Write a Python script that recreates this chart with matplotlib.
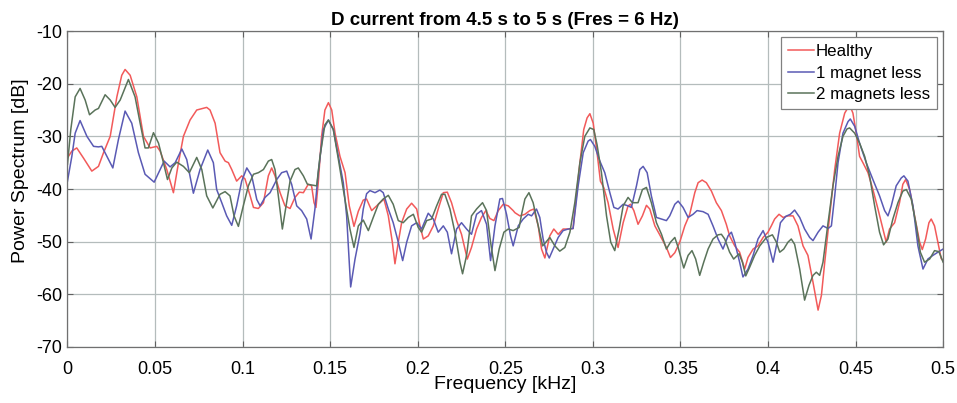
import matplotlib
matplotlib.use("Agg")
import matplotlib.pyplot as plt

# ---------------- data (frequency in kHz, power in dB) ----------------
healthy_f = [0.0000, 0.0025, 0.0053, 0.0091, 0.0139, 0.0177, 0.0206, 0.0244, 0.0282, 0.0310,
             0.0329, 0.0358, 0.0396, 0.0434, 0.0472, 0.0510, 0.0529, 0.0567, 0.0605, 0.0634,
             0.0662, 0.0700, 0.0738, 0.0795, 0.0814, 0.0843, 0.0871, 0.0900, 0.0919, 0.0938,
             0.0966, 0.0995, 0.1014, 0.1043, 0.1062, 0.1090, 0.1119, 0.1147, 0.1166, 0.1185,
             0.1214, 0.1242, 0.1271, 0.1299, 0.1324, 0.1347, 0.1375, 0.1394, 0.1408, 0.1419,
             0.1432, 0.1451, 0.1470, 0.1490, 0.1509, 0.1528, 0.1556, 0.1585, 0.1609, 0.1636,
             0.1661, 0.1689, 0.1708, 0.1737, 0.1756, 0.1784, 0.1807, 0.1832, 0.1855, 0.1870,
             0.1889, 0.1908, 0.1937, 0.1965, 0.1994, 0.2013, 0.2032, 0.2060, 0.2089, 0.2117,
             0.2146, 0.2169, 0.2193, 0.2222, 0.2250, 0.2283, 0.2307, 0.2336, 0.2364, 0.2389,
             0.2412, 0.2435, 0.2460, 0.2488, 0.2517, 0.2545, 0.2555, 0.2583, 0.2612, 0.2640,
             0.2663, 0.2688, 0.2707, 0.2726, 0.2754, 0.2777, 0.2802, 0.2830, 0.2859, 0.2887,
             0.2906, 0.2926, 0.2948, 0.2967, 0.2983, 0.3002, 0.3024, 0.3043, 0.3062, 0.3087,
             0.3116, 0.3144, 0.3173, 0.3201, 0.3215, 0.3234, 0.3258, 0.3283, 0.3306, 0.3325,
             0.3354, 0.3382, 0.3420, 0.3443, 0.3468, 0.3496, 0.3525, 0.3553, 0.3582, 0.3601,
             0.3624, 0.3648, 0.3677, 0.3705, 0.3734, 0.3762, 0.3781, 0.3810, 0.3838, 0.3867,
             0.3886, 0.3915, 0.3943, 0.3972, 0.4000, 0.4019, 0.4038, 0.4063, 0.4086, 0.4114,
             0.4143, 0.4171, 0.4200, 0.4228, 0.4257, 0.4286, 0.4305, 0.4324, 0.4352, 0.4381,
             0.4409, 0.4438, 0.4466, 0.4485, 0.4504, 0.4523, 0.4542, 0.4571, 0.4599, 0.4628,
             0.4656, 0.4675, 0.4694, 0.4723, 0.4751, 0.4770, 0.4786, 0.4809, 0.4837, 0.4866,
             0.4881, 0.4900, 0.4919, 0.4932, 0.4951, 0.4970, 0.4989, 0.5000]
healthy_db = [-34.1, -32.8, -32.2, -34.1, -36.6, -35.7, -33.1, -30.0, -22.5, -18.4,
              -17.3, -18.4, -22.5, -30.0, -32.2, -31.9, -32.8, -36.3, -40.7, -35.0,
              -30.0, -26.9, -25.0, -24.5, -25.0, -27.5, -33.1, -34.7, -35.0, -36.3,
              -38.5, -37.5, -38.1, -41.3, -43.5, -43.7, -42.6, -37.5, -36.0, -37.5,
              -40.7, -43.2, -43.7, -41.6, -40.6, -40.7, -39.1, -39.4, -42.6, -43.5,
              -38.8, -30.0, -25.0, -23.6, -25.0, -29.4, -33.8, -36.9, -43.2, -47.1,
              -44.2, -42.1, -41.9, -44.1, -43.5, -42.6, -41.9, -45.1, -50.1, -54.2,
              -50.1, -46.4, -43.8, -42.7, -43.8, -47.0, -49.5, -48.9, -47.0, -43.8,
              -40.7, -40.6, -42.6, -46.0, -48.6, -53.3, -51.1, -47.6, -45.4, -44.1,
              -45.6, -46.0, -44.1, -42.9, -43.2, -44.1, -44.5, -45.1, -44.8, -44.1,
              -43.8, -47.0, -51.4, -53.1, -48.9, -47.6, -48.6, -47.6, -47.6, -47.5,
              -41.3, -35.0, -28.7, -26.5, -25.7, -27.5, -33.1, -38.5, -39.7, -42.6,
              -47.6, -51.1, -46.4, -43.2, -42.9, -44.1, -46.7, -45.1, -43.1, -43.8,
              -47.0, -48.7, -51.1, -53.0, -52.1, -50.1, -47.0, -44.8, -40.7, -38.8,
              -38.3, -38.8, -40.4, -42.6, -44.1, -46.7, -48.9, -50.8, -52.0, -55.2,
              -53.0, -51.4, -50.8, -49.2, -48.2, -47.0, -45.7, -44.8, -45.4, -45.1,
              -45.1, -47.0, -50.8, -52.6, -57.7, -63.0, -60.2, -53.9, -45.1, -36.3,
              -29.4, -25.6, -24.0, -25.6, -29.4, -33.8, -35.0, -36.9, -40.1, -43.8,
              -47.6, -50.1, -47.6, -46.4, -42.6, -39.1, -38.2, -40.1, -45.1, -50.1,
              -51.5, -49.5, -46.4, -45.7, -47.0, -50.1, -53.2, -53.6]

one_less_f = [0.0000, 0.0025, 0.0044, 0.0072, 0.0111, 0.0149, 0.0177, 0.0196, 0.0225, 0.0259,
              0.0291, 0.0329, 0.0367, 0.0405, 0.0443, 0.0495, 0.0529, 0.0552, 0.0586, 0.0615,
              0.0653, 0.0681, 0.0719, 0.0757, 0.0801, 0.0833, 0.0852, 0.0881, 0.0909, 0.0938,
              0.0966, 0.0995, 0.1024, 0.1052, 0.1081, 0.1100, 0.1128, 0.1157, 0.1195, 0.1223,
              0.1252, 0.1280, 0.1309, 0.1337, 0.1366, 0.1391, 0.1413, 0.1432, 0.1461, 0.1490,
              0.1518, 0.1547, 0.1575, 0.1594, 0.1617, 0.1642, 0.1670, 0.1689, 0.1708, 0.1727,
              0.1756, 0.1784, 0.1803, 0.1832, 0.1860, 0.1889, 0.1914, 0.1937, 0.1965, 0.1994,
              0.2022, 0.2060, 0.2089, 0.2117, 0.2146, 0.2169, 0.2193, 0.2222, 0.2250, 0.2279,
              0.2307, 0.2336, 0.2364, 0.2393, 0.2416, 0.2441, 0.2469, 0.2484, 0.2507, 0.2530,
              0.2545, 0.2574, 0.2602, 0.2631, 0.2650, 0.2678, 0.2697, 0.2716, 0.2735, 0.2751,
              0.2773, 0.2802, 0.2830, 0.2859, 0.2887, 0.2916, 0.2945, 0.2973, 0.2986, 0.3011,
              0.3040, 0.3068, 0.3097, 0.3120, 0.3144, 0.3173, 0.3201, 0.3220, 0.3249, 0.3268,
              0.3287, 0.3310, 0.3334, 0.3363, 0.3392, 0.3420, 0.3439, 0.3468, 0.3487, 0.3515,
              0.3544, 0.3572, 0.3595, 0.3629, 0.3658, 0.3686, 0.3715, 0.3743, 0.3772, 0.3791,
              0.3810, 0.3838, 0.3857, 0.3886, 0.3915, 0.3943, 0.3972, 0.4000, 0.4029, 0.4052,
              0.4071, 0.4101, 0.4128, 0.4152, 0.4181, 0.4209, 0.4238, 0.4257, 0.4286, 0.4314,
              0.4343, 0.4362, 0.4381, 0.4400, 0.4428, 0.4457, 0.4470, 0.4495, 0.4523, 0.4561,
              0.4599, 0.4637, 0.4666, 0.4685, 0.4704, 0.4732, 0.4761, 0.4776, 0.4799, 0.4828,
              0.4856, 0.4885, 0.4913, 0.4942, 0.4970, 0.5000]
one_less_db = [-38.5, -33.8, -29.4, -27.0, -30.0, -31.9, -32.0, -31.9, -33.8, -36.0,
               -30.6, -25.2, -27.5, -33.1, -37.2, -38.7, -36.3, -34.7, -35.8, -35.0,
               -32.4, -34.4, -40.8, -36.3, -32.6, -35.0, -40.1, -42.6, -45.1, -46.9,
               -43.2, -38.5, -36.0, -37.5, -42.0, -43.2, -41.6, -40.7, -38.2, -36.9,
               -36.6, -39.1, -43.2, -44.1, -45.7, -49.5, -43.8, -36.9, -28.7, -26.9,
               -28.7, -33.8, -38.8, -45.1, -58.6, -53.3, -48.5, -43.8, -40.9, -40.3,
               -40.7, -40.2, -40.7, -43.8, -46.4, -50.1, -53.6, -50.1, -47.0, -46.4,
               -47.6, -44.6, -45.7, -48.2, -47.0, -48.2, -52.3, -47.6, -46.4, -47.6,
               -48.6, -44.8, -44.1, -46.7, -53.6, -47.0, -41.9, -41.8, -44.8, -48.9,
               -50.8, -47.0, -45.7, -44.8, -45.1, -43.8, -45.4, -49.5, -52.0, -53.1,
               -51.4, -49.2, -47.9, -47.6, -47.5, -39.4, -33.1, -30.9, -30.6, -31.9,
               -34.7, -36.9, -40.7, -43.5, -43.8, -42.9, -43.2, -43.5, -39.4, -36.3,
               -35.7, -36.9, -41.3, -45.4, -45.7, -46.0, -45.1, -42.9, -42.3, -43.5,
               -45.4, -44.8, -44.1, -44.3, -44.8, -47.0, -49.5, -51.4, -48.9, -48.2,
               -50.1, -53.9, -56.7, -55.2, -52.6, -49.5, -47.9, -50.1, -53.9, -50.1,
               -46.4, -45.2, -44.8, -44.0, -45.4, -47.6, -49.2, -49.8, -48.2, -47.0,
               -47.5, -47.0, -41.3, -35.0, -29.4, -27.2, -26.7, -28.1, -31.3, -35.0,
               -38.2, -41.3, -44.1, -45.1, -43.2, -39.4, -37.9, -37.5, -38.5, -43.2,
               -50.8, -55.2, -53.3, -52.6, -52.0, -51.4]

two_less_f = [0.0000, 0.0019, 0.0044, 0.0072, 0.0101, 0.0126, 0.0158, 0.0177, 0.0215, 0.0244,
              0.0272, 0.0301, 0.0348, 0.0386, 0.0415, 0.0443, 0.0462, 0.0491, 0.0520, 0.0548,
              0.0571, 0.0596, 0.0624, 0.0662, 0.0696, 0.0738, 0.0767, 0.0795, 0.0830, 0.0871,
              0.0900, 0.0928, 0.0951, 0.0976, 0.1004, 0.1033, 0.1062, 0.1090, 0.1119, 0.1147,
              0.1166, 0.1185, 0.1204, 0.1227, 0.1248, 0.1271, 0.1299, 0.1318, 0.1347, 0.1370,
              0.1404, 0.1423, 0.1442, 0.1470, 0.1490, 0.1518, 0.1547, 0.1575, 0.1613, 0.1636,
              0.1661, 0.1689, 0.1718, 0.1746, 0.1775, 0.1803, 0.1832, 0.1860, 0.1889, 0.1917,
              0.1946, 0.1975, 0.2003, 0.2022, 0.2051, 0.2079, 0.2108, 0.2136, 0.2155, 0.2184,
              0.2212, 0.2241, 0.2256, 0.2279, 0.2307, 0.2336, 0.2370, 0.2393, 0.2416, 0.2441,
              0.2465, 0.2492, 0.2517, 0.2545, 0.2579, 0.2593, 0.2612, 0.2635, 0.2659, 0.2688,
              0.2713, 0.2732, 0.2754, 0.2783, 0.2811, 0.2840, 0.2869, 0.2897, 0.2926, 0.2954,
              0.2983, 0.3005, 0.3024, 0.3049, 0.3078, 0.3102, 0.3125, 0.3150, 0.3173, 0.3201,
              0.3226, 0.3258, 0.3283, 0.3306, 0.3334, 0.3363, 0.3392, 0.3420, 0.3443, 0.3468,
              0.3487, 0.3519, 0.3544, 0.3566, 0.3587, 0.3610, 0.3633, 0.3658, 0.3686, 0.3715,
              0.3734, 0.3753, 0.3781, 0.3804, 0.3835, 0.3854, 0.3873, 0.3896, 0.3924, 0.3953,
              0.3991, 0.4025, 0.4048, 0.4067, 0.4090, 0.4114, 0.4133, 0.4152, 0.4181, 0.4209,
              0.4234, 0.4257, 0.4276, 0.4295, 0.4314, 0.4343, 0.4371, 0.4400, 0.4428, 0.4451,
              0.4466, 0.4495, 0.4523, 0.4552, 0.4580, 0.4609, 0.4637, 0.4660, 0.4685, 0.4713,
              0.4742, 0.4770, 0.4790, 0.4818, 0.4847, 0.4870, 0.4894, 0.4923, 0.4951, 0.4976,
              0.5000]
two_less_db = [-35.3, -28.7, -22.5, -20.9, -23.1, -25.9, -25.0, -24.7, -22.1, -23.1,
               -24.5, -23.1, -19.2, -22.5, -27.5, -32.2, -32.2, -29.3, -31.3, -35.0,
               -38.2, -36.0, -34.9, -35.7, -36.9, -34.0, -36.3, -41.3, -43.6, -41.0,
               -40.5, -41.3, -45.1, -47.1, -43.2, -39.4, -37.2, -36.9, -36.3, -34.7,
               -34.4, -36.3, -41.3, -47.6, -43.2, -38.5, -36.3, -36.0, -37.5, -39.1,
               -39.3, -39.4, -33.8, -27.8, -26.9, -28.7, -34.4, -40.1, -47.6, -51.1,
               -47.0, -45.9, -47.9, -45.4, -42.9, -41.9, -41.2, -42.9, -46.0, -46.4,
               -45.4, -44.8, -47.3, -48.2, -46.0, -45.7, -43.2, -41.0, -41.0, -43.8,
               -48.2, -53.9, -56.1, -52.6, -45.1, -43.8, -42.6, -44.1, -50.1, -55.5,
               -51.4, -48.2, -47.6, -47.9, -47.3, -44.8, -41.9, -40.7, -42.6, -47.0,
               -50.8, -50.1, -49.2, -50.8, -51.8, -51.1, -48.2, -42.6, -35.0, -30.0,
               -28.4, -28.7, -31.6, -36.9, -45.1, -50.1, -51.7, -47.6, -43.2, -41.6,
               -42.6, -42.6, -40.1, -39.7, -42.6, -46.4, -48.6, -51.4, -50.1, -49.2,
               -51.1, -55.0, -52.6, -51.7, -53.3, -56.4, -53.9, -51.4, -49.5, -48.7,
               -48.6, -49.5, -52.0, -53.3, -52.3, -53.9, -56.5, -54.8, -52.6, -50.8,
               -49.2, -48.7, -50.1, -52.0, -51.4, -50.1, -49.5, -50.5, -55.2, -61.1,
               -58.3, -56.4, -55.8, -56.4, -53.9, -46.4, -39.4, -33.8, -30.0, -28.6,
               -28.4, -29.4, -31.3, -33.8, -37.5, -43.2, -48.2, -50.6, -49.5, -45.7,
               -42.6, -40.4, -40.1, -41.9, -47.0, -52.0, -53.9, -53.3, -51.7, -51.9,
               -53.9]

series_labels = ["Healthy", "1 magnet less", "2 magnets less"]
x_ticks = [0, 0.05, 0.1, 0.15, 0.2, 0.25, 0.3, 0.35, 0.4, 0.45, 0.5]
x_tick_labels = ["0", "0.05", "0.1", "0.15", "0.2", "0.25", "0.3", "0.35", "0.4", "0.45", "0.5"]
y_ticks = [-70, -60, -50, -40, -30, -20, -10]

# ---------------- figure ----------------
plt.rcParams['font.family'] = ['Liberation Sans', 'DejaVu Sans']
plt.rcParams['axes.unicode_minus'] = False

fig = plt.figure(figsize=(9.57, 4.03), dpi=100)
ax = fig.add_axes([0.0705, 0.139, 0.9150, 0.784])

colors = ['#f25a5a', '#5a5ab4', '#5a735a']
ax.plot(healthy_f, healthy_db, color=colors[0], lw=1.1, label=series_labels[0])
ax.plot(one_less_f, one_less_db, color=colors[1], lw=1.1, label=series_labels[1])
ax.plot(two_less_f, two_less_db, color=colors[2], lw=1.1, label=series_labels[2])

ax.set_xlim(0, 0.5)
ax.set_ylim(-70, -10)
ax.set_xticks(x_ticks)
ax.set_xticklabels(x_tick_labels)
ax.set_yticks(y_ticks)
ax.grid(True, color='#b4bcbc', lw=0.9)
ax.set_axisbelow(True)
ax.tick_params(direction='in', top=True, right=True, length=4, width=0.8,
               color='#606060', labelsize=13)
ax.tick_params(axis='y', pad=4)
ax.tick_params(axis='x', pad=10)
for s in ax.spines.values():
    s.set_color('#707070')
    s.set_linewidth(0.9)

ax.set_xlabel("Frequency [kHz]", fontsize=14, labelpad=-1)
ax.set_ylabel("Power Spectrum [dB]", fontsize=14)
ax.yaxis.set_label_coords(-0.044, 0.557)
ax.set_title("D current from 4.5 s to 5 s (Fres = 6 Hz)", fontsize=13.5, fontweight='bold', pad=4)

leg = ax.legend(loc='upper right', fontsize=12.2, handlelength=1.55, handletextpad=0.1,
                borderaxespad=0.35, borderpad=0.42, labelspacing=0.38, fancybox=False,
                framealpha=1, edgecolor='#808080')
leg.get_frame().set_linewidth(0.9)

fig.savefig("out.png", dpi=100)
